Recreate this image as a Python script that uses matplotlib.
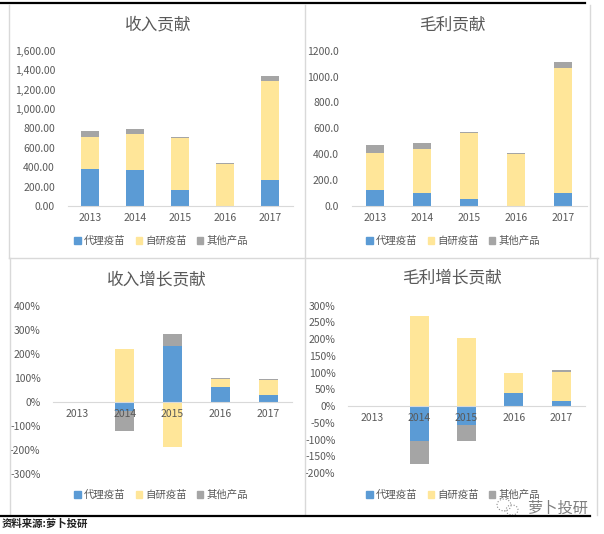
import numpy as np
import matplotlib
matplotlib.use("Agg")
import matplotlib.pyplot as plt
from matplotlib.patches import Patch, Ellipse
from matplotlib.lines import Line2D
from matplotlib.ticker import FuncFormatter

plt.rcParams['font.family'] = ['Noto Sans CJK SC', 'DejaVu Sans']

years = ['2013', '2014', '2015', '2016', '2017']
series_names = ['代理疫苗', '自研疫苗', '其他产品']
colors = ['#5B9BD5', '#FFE699', '#A5A5A5']

# 收入贡献
rev_agent = [381, 371, 165, 0, 268]
rev_own = [333, 374, 539, 436, 1023]
rev_other = [59, 48, 10, 7, 48]

# 毛利贡献
gp_agent = [124, 103, 54, 0, 103]
gp_own = [288, 340, 512, 404, 963]
gp_other = [59, 43, 5, 5, 46]

# 收入增长贡献 (%)
revg_agent = [0, -40, 234, 60, 29]
revg_own = [0, 219, -187, 37, 62]
revg_other = [0, -83, 48, 4, 4]

# 毛利增长贡献 (%)
gpg_agent = [0, -104, -57, 40, 15]
gpg_own = [0, 269, 203, 60, 88]
gpg_other = [0, -68, -47, -2, 6]

W, H = 604, 534
fig = plt.figure(figsize=(W / 100, H / 100), dpi=100)


def px_axes(left, right, top, bottom):
    return fig.add_axes([left / W, 1 - bottom / H, (right - left) / W, (bottom - top) / H])


def stacked(ax, data, width=0.4):
    x = np.arange(len(years))
    pos = np.zeros(len(years))
    neg = np.zeros(len(years))
    for vals, c in zip(data, colors):
        vals = np.array(vals, dtype=float)
        base = np.where(vals >= 0, pos, neg)
        ax.bar(x, vals, width, bottom=base, color=c, zorder=1)
        pos = pos + np.where(vals >= 0, vals, 0)
        neg = neg + np.where(vals < 0, vals, 0)
    ax.set_xlim(-0.5, len(years) - 0.5)
    ax.set_xticks(x)
    ax.set_xticklabels(years)
    for s in ['top', 'right', 'left']:
        ax.spines[s].set_visible(False)
    ax.spines['bottom'].set_position(('data', 0))
    ax.spines['bottom'].set_color('#D9D9D9')
    ax.tick_params(axis='both', length=0, labelsize=7.5, colors='#595959')
    ax.tick_params(axis='x', pad=5)
    ax.tick_params(axis='y', pad=9)


def panel_title(text, cx, cy):
    fig.text(cx / W, 1 - cy / H, text, ha='center', va='center', fontsize=12, color='#595959')


def panel_legend(ax, cx, cy):
    handles = [Patch(color=c, label=n) for c, n in zip(colors, series_names)]
    ax.legend(handles=handles, loc='center', bbox_to_anchor=(cx / W, 1 - cy / H),
              bbox_transform=fig.transFigure, ncol=3, frameon=False, fontsize=7.5,
              handlelength=0.6, handleheight=0.6, handletextpad=0.3, columnspacing=1.0,
              labelcolor='#595959')


# panel 1
ax1 = px_axes(67.5, 292.5, 50.7, 206)
stacked(ax1, [rev_agent, rev_own, rev_other])
ax1.set_ylim(0, 1600)
ax1.set_yticks(np.arange(0, 1601, 200))
ax1.yaxis.set_major_formatter(FuncFormatter(lambda v, p: f'{v:,.2f}'))
panel_title('收入贡献', 158, 25)
panel_legend(ax1, 161, 241)

# panel 2
ax2 = px_axes(351.5, 586.5, 50.7, 206)
stacked(ax2, [gp_agent, gp_own, gp_other])
ax2.set_ylim(0, 1200)
ax2.set_yticks(np.arange(0, 1201, 200))
ax2.yaxis.set_major_formatter(FuncFormatter(lambda v, p: f'{v:.1f}'))
panel_title('毛利贡献', 452, 25)
panel_legend(ax2, 453, 241)

# panel 3
ax3 = px_axes(53, 292, 305.7, 474)
stacked(ax3, [revg_agent, revg_own, revg_other])
ax3.set_ylim(-300, 400)
ax3.set_yticks(np.arange(-300, 401, 100))
ax3.yaxis.set_major_formatter(FuncFormatter(lambda v, p: f'{v:.0f}%'))
panel_title('收入增长贡献', 157, 280)
panel_legend(ax3, 161, 495)

# panel 4
ax4 = px_axes(348, 585, 305.7, 473)
stacked(ax4, [gpg_agent, gpg_own, gpg_other])
ax4.set_ylim(-200, 300)
ax4.set_yticks(np.arange(-200, 301, 50))
ax4.yaxis.set_major_formatter(FuncFormatter(lambda v, p: f'{v:.0f}%'))
panel_title('毛利增长贡献', 452, 278)
panel_legend(ax4, 453, 495)


def fline(x0, y0, x1, y1, color='#D9D9D9', lw=1.0):
    fig.add_artist(Line2D([x0 / W, x1 / W], [1 - y0 / H, 1 - y1 / H],
                          color=color, lw=lw, transform=fig.transFigure))


# panel frames
fline(9, 5, 9, 258)
fline(10, 258, 10, 515)
fline(305, 5, 305, 515)
fline(9, 258, 598, 258)
fline(590, 5, 590, 258)
fline(597, 258, 597, 515)

# black rules
fline(0, 3, 585, 3, color='black', lw=1.6)
fline(0, 516, 590, 516, color='black', lw=1.6)

fig.text(2 / W, 1 - 524 / H, '资料来源:萝卜投研', ha='left', va='center',
         fontsize=7.5, fontweight='bold', style='italic', color='#222222')

# watermark
fig.text(588 / W, 1 - 508 / H, '萝卜投研', ha='right', va='center', fontsize=11, color='#7F7F7F')
for ex, ey, ew in [(504, 505, 14), (512, 510, 12)]:
    fig.add_artist(Ellipse((ex / W, 1 - ey / H), ew / W, ew * 0.85 / H,
                           transform=fig.transFigure, fill=False, ls=':', ec='#8C8C8C', lw=0.8))

fig.savefig('out.png', dpi=100)
